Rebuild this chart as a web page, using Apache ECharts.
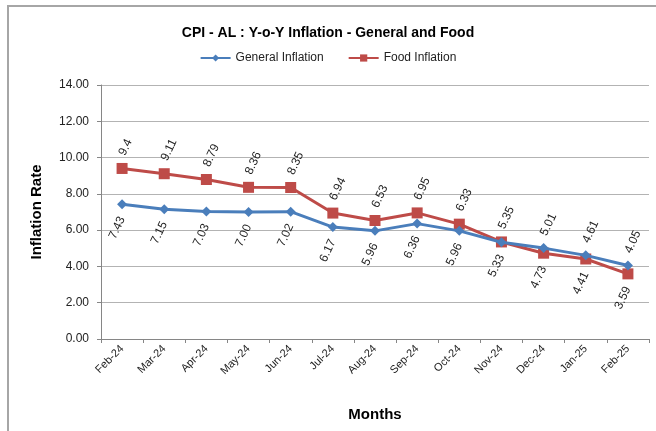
<!DOCTYPE html>
<html>
<head>
<meta charset="utf-8">
<script src="https://cdn.jsdelivr.net/npm/echarts@6/dist/echarts.min.js"></script>
<style>
  html, body { margin: 0; padding: 0; background: #fff; }
  #main { width: 656px; height: 431px; }
</style>
</head>
<body>
<div id="main"></div>
<script>
var months = ['Feb-24', 'Mar-24', 'Apr-24', 'May-24', 'Jun-24', 'Jul-24', 'Aug-24',
  'Sep-24', 'Oct-24', 'Nov-24', 'Dec-24', 'Jan-25', 'Feb-25'];
var generalInflation = [7.43, 7.15, 7.03, 7.00, 7.02, 6.17, 5.96, 6.36, 5.96, 5.33, 5.01, 4.61, 4.05];
var foodInflation = [9.4, 9.11, 8.79, 8.36, 8.35, 6.94, 6.53, 6.95, 6.33, 5.35, 4.73, 4.41, 3.59];
var generalLabels = ['7.43', '7.15', '7.03', '7.00', '7.02', '6.17', '5.96', '6.36', '5.96', '5.33', '5.01', '4.61', '4.05'];
var foodLabels = ['9.4', '9.11', '8.79', '8.36', '8.35', '6.94', '6.53', '6.95', '6.33', '5.35', '4.73', '4.41', '3.59'];
// which points have their label above the marker (Excel labels were moved by hand)
var generalAbove = [0, 0, 0, 0, 0, 0, 0, 0, 0, 0, 1, 1, 1];
var foodAbove = [1, 1, 1, 1, 1, 1, 1, 1, 1, 1, 0, 0, 0];

var FONT = 'Liberation Sans';
var ROT = 65;

function buildPoints(values, labels, above) {
  return values.map(function (v, i) {
    var up = above[i] === 1;
    return {
      value: v,
      label: {
        show: true,
        formatter: labels[i],
        position: up ? 'top' : 'bottom',
        rotate: ROT,
        align: up ? 'left' : 'right',
        verticalAlign: 'middle',
        distance: 8
      }
    };
  });
}

var chart = echarts.init(document.getElementById('main'));

var option = {
  backgroundColor: '#fff',
  animation: false,
  textStyle: { fontFamily: FONT },
  title: {
    text: 'CPI - AL : Y-o-Y Inflation - General and Food',
    left: 'center',
    top: 21,
    textStyle: { fontFamily: FONT, fontSize: 14, fontWeight: 'bold', color: '#000' }
  },
  legend: {
    top: 47,
    left: 'center',
    itemWidth: 30,
    itemHeight: 9,
    itemGap: 24,
    textStyle: { fontFamily: FONT, fontSize: 12, color: '#222' },
    data: ['General Inflation', 'Food Inflation']
  },
  graphic: [{
    type: 'rect',
    shape: { x: 8, y: 6, width: 700, height: 500 },
    style: { fill: 'none', stroke: '#a6a6a6', lineWidth: 2 },
    silent: true
  }],
  grid: { left: 101, right: 7, top: 85, bottom: 92 },
  xAxis: {
    type: 'category',
    data: months,
    boundaryGap: true,
    name: 'Months',
    nameLocation: 'middle',
    nameGap: 68,
    nameTextStyle: { fontFamily: FONT, fontSize: 15, fontWeight: 'bold', color: '#000' },
    axisLine: { lineStyle: { color: '#868686', width: 1 } },
    axisTick: { show: true, length: 4, lineStyle: { color: '#868686' } },
    axisLabel: { rotate: 45, interval: 0, margin: 8, fontSize: 11, color: '#222', fontFamily: FONT }
  },
  yAxis: {
    type: 'value',
    min: 0,
    max: 14,
    interval: 2,
    name: 'Inflation Rate',
    nameLocation: 'middle',
    nameGap: 57,
    nameTextStyle: { fontFamily: FONT, fontSize: 15, fontWeight: 'bold', color: '#000' },
    axisLine: { show: true, lineStyle: { color: '#868686', width: 1 } },
    axisTick: { show: true, length: 4, lineStyle: { color: '#868686' } },
    axisLabel: {
      fontSize: 12, color: '#222', fontFamily: FONT, margin: 12,
      formatter: function (v) { return v.toFixed(2); }
    },
    splitLine: { lineStyle: { color: '#b3b3b3', width: 1 } }
  },
  series: [{
    name: 'General Inflation',
    type: 'line',
    data: buildPoints(generalInflation, generalLabels, generalAbove),
    symbol: 'diamond',
    symbolSize: 10,
    color: '#4a7ebb',
    lineStyle: { width: 3, color: '#4a7ebb' },
    itemStyle: { color: '#4a7ebb' },
    label: { fontSize: 12, color: '#222', fontFamily: FONT },
    z: 3
  }, {
    name: 'Food Inflation',
    type: 'line',
    data: buildPoints(foodInflation, foodLabels, foodAbove),
    symbol: 'rect',
    symbolSize: 11,
    color: '#be4b48',
    lineStyle: { width: 3, color: '#be4b48' },
    itemStyle: { color: '#be4b48' },
    label: { fontSize: 12, color: '#222', fontFamily: FONT },
    z: 2
  }]
};

chart.setOption(option);
</script>
</body>
</html>
